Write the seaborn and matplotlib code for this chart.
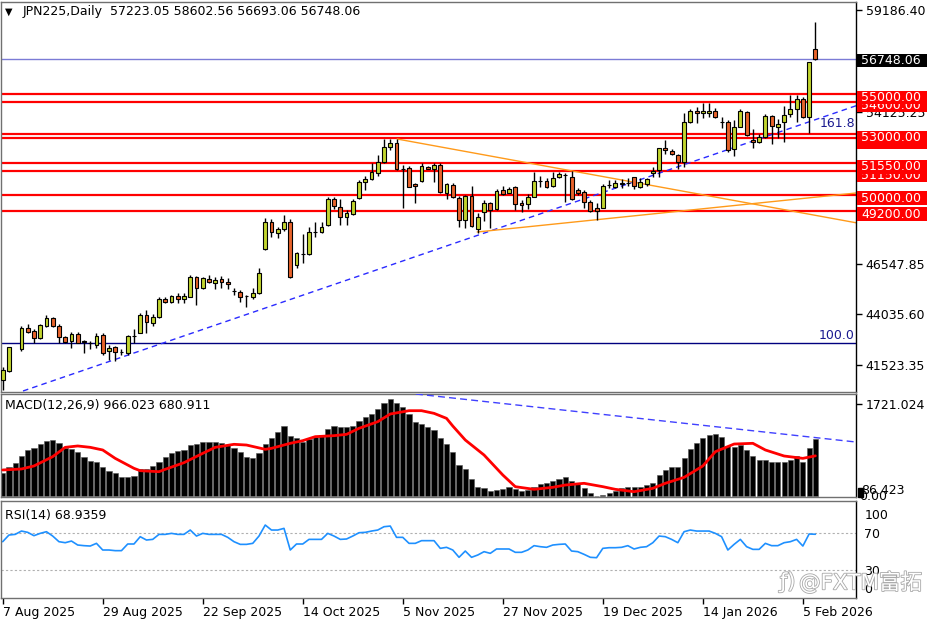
import numpy as np
import seaborn as sns
import matplotlib
matplotlib.use('Agg')
import matplotlib.pyplot as plt
import matplotlib.patheffects as pe
from matplotlib.patches import Rectangle

nan = np.nan

# daily OHLC (bar 0 = 7 Aug 2025)
opens = [40780, 41240, nan, 42300, 43350, 43220, 42850, 43460, 43850, 43460,
         42900, 42720, 43050, 42700, 42600, 42520, 43000, 42240, 42400, 42190,
         42100, 42970, 43130, 44010, 43630, 43900, 44790, 44670, 44960, 44790,
         44920, 45890, 45340, 45790, 45620, 45790, 45670, 45220, 45170, 44960,
         44920, 45120, 47280, 48650, 48110, 48270, 48650, 46500, 47040, 47030,
         48140, 48160, 48490, 49770, 49400, 48870, 49020, 49820, 50610, 50760,
         51060, 51640, 52380, 52580, 51260, 51310, 50530, 50690, 51360, 51260,
         51470, 50100, 50460, 49820, 48740, 49920, 48270, 49150, 49570, 49270,
         50230, 50100, 50360, 49570, 49530, 49900, 50680, 50680, 50430, 50860,
         50980, 50860, 50230, 50120, 49620, 49320, 49350, 50460, 50390, 50550,
         50590, 50860, 50360, 50510, 51060, 51230, 52300, 52170, 51970, 51640,
         53630, 54160, 54050, 54050, 54160, 53630, 53630, 52250, 53380, 54130,
         52720, 52640, 52880, 53910, 53350, 53600, 54000, 54240, 54740, 53850,
         57223.05]
highs = [41440, 42430, nan, 43460, 43560, 43300, 43560, 44010, 43930, 43560,
         42970, 43150, 43180, 42770, 42730, 43100, 43100, 42520, 42470, 42300,
         43020, 43300, 44100, 44260, 44060, 44890, 44920, 45010, 45090, 45120,
         46000, 45950, 45920, 46000, 45920, 45950, 45840, 45340, 45260, 45010,
         45340, 46330, 48820, 48770, 48400, 48990, 48770, 47160, 48040, 48370,
         48650, 48650, 49870, 49870, 49770, 49240, 49770, 50730, 50930, 51560,
         51970, 52750, 52750, 52750, 51470, 51420, 50590, 51560, 51420, 51590,
         51560, 50590, 50560, 49930, 49980, 50430, 49100, 49730, 49650, 50260,
         50430, 50360, 50430, 49730, 50030, 51140, 50930, 50810, 51140, 51140,
         51060, 51190, 50310, 50230, 49730, 49570, 50530, 50730, 50730, 50760,
         50810, 50890, 50810, 50840, 51390, 52330, 52720, 52270, 52020, 54050,
         54240, 54340, 54570, 54570, 54290, 53880, 53710, 53710, 54240, 54160,
         53250, 53020, 54000, 53960, 53750, 54410, 54960, 54960, 54840, 56610,
         58602.56]
lows = [40280, 41190, nan, 42240, 43100, 42630, 42800, 43430, 43400, 42630,
        42630, 42380, 42630, 42140, 42300, 42350, 42020, 41770, 41740, 42020,
        42020, 42630, 43100, 43100, 43460, 43860, 44620, 44620, 44620, 44620,
        44890, 44510, 45290, 45590, 45290, 45340, 45290, 45010, 44670, 44420,
        44790, 45060, 47250, 47910, 47830, 48210, 45840, 46330, 46580, 47000,
        47910, 48080, 48440, 49270, 48490, 48490, 48990, 49770, 50230, 50730,
        50930, 51560, 52220, 51230, 49320, 50360, 49570, 50640, 51260, 50640,
        50100, 49770, 49820, 48400, 48320, 48400, 48110, 48700, 48320, 49240,
        49980, 50070, 49240, 49150, 49270, 49870, 50390, 50310, 50360, 50810,
        49650, 49730, 49980, 49320, 49150, 48740, 49320, 50310, 50310, 50310,
        50430, 50260, 50310, 50430, 50860, 50890, 52020, 51970, 51260, 51390,
        53580, 53580, 53800, 53880, 53800, 53300, 52140, 51920, 53350, 52920,
        52300, 52550, 52800, 52520, 52800, 52630, 53850, 53630, 53800, 53050,
        56693.06]
closes = [41270, 42400, nan, 43350, 43180, 42850, 43510, 43850, 43460, 42900,
          42680, 43050, 42630, 42680, 42620, 42970, 42100, 42350, 42190, 42170,
          42970, 42980, 44010, 43650, 43900, 44790, 44670, 44960, 44790, 44960,
          45890, 45340, 45840, 45670, 45750, 45670, 45540, 45210, 44920, 44950,
          45120, 46120, 48650, 48140, 48270, 48620, 45890, 47080, 47050, 48140,
          48150, 48400, 49770, 49430, 48900, 49070, 49680, 50610, 50760, 51140,
          51610, 52350, 52580, 51260, 51280, 50390, 50430, 51410, 51290, 51460,
          50150, 50510, 49900, 48740, 49920, 48440, 48870, 49570, 49240, 50200,
          50030, 50290, 49530, 49500, 49900, 50680, 50690, 50390, 50810, 51010,
          50980, 49770, 50070, 49630, 49200, 49190, 50430, 50470, 50580, 50560,
          50600, 50430, 50640, 50780, 51190, 52300, 52220, 52020, 51640, 53630,
          54180, 54050, 54160, 54180, 53880, 53620, 52220, 53350, 54180, 52970,
          52600, 52880, 53910, 53410, 53510, 53960, 54240, 54760, 53850, 56610,
          56748.06]

macd_hist = [384, 486, 553, 683, 780, 808, 876, 938, 949, 904,
             808, 797, 741, 667, 599, 582, 497, 429, 384, 316,
             328, 339, 452, 463, 508, 582, 667, 735, 762, 780,
             865, 881, 910, 921, 921, 904, 865, 808, 741, 667,
             638, 723, 876, 989, 1090, 1187, 1017, 977, 921, 960,
             1005, 1034, 1130, 1187, 1175, 1175, 1192, 1271, 1333, 1390,
             1469, 1571, 1639, 1571, 1510, 1385, 1247, 1214, 1164, 1119,
             977, 881, 741, 526, 458, 283, 159, 130, 85, 101,
             118, 147, 113, 91, 101, 147, 204, 215, 260, 283,
             316, 260, 204, 141, 45, 5, 17, 45, 91, 141,
             147, 147, 159, 186, 226, 356, 440, 486, 486, 638,
             791, 892, 977, 1034, 1045, 995, 848, 825, 865, 780,
             678, 611, 611, 582, 582, 582, 611, 678, 582, 819,
             966.023]
sig_idx = [0, 3, 5, 8, 10, 12, 14, 16, 18, 21, 22, 25, 26, 29, 32, 34, 37, 39, 42, 43,
           46, 48, 50, 53, 55, 57, 60, 62, 65, 67, 69, 71, 72, 74, 77, 80, 82, 85, 88, 90,
           93, 96, 98, 101, 104, 106, 109, 112, 114, 117, 120, 122, 125, 128, 130]
sig_val = [441, 458, 509, 667, 825, 848, 825, 780, 638, 469, 429, 412, 452, 565, 723, 825, 876, 864, 791, 808,
           893, 938, 1006, 1023, 1045, 1147, 1260, 1390, 1446, 1446, 1401, 1316, 1186, 949, 695, 356, 158, 113, 147, 186,
           215, 158, 113, 73, 130, 215, 316, 509, 751, 881, 893, 780, 678, 638, 680.911]

rsi = [60.9, 68.1, 68.8, 72.4, 71.0, 67.4, 69.9, 71.7, 67.0, 60.9,
       59.8, 61.6, 57.3, 56.6, 56.2, 59.1, 51.9, 51.9, 51.2, 51.2,
       58.4, 58.4, 66.3, 62.7, 63.4, 68.8, 68.8, 69.9, 68.8, 68.8,
       73.5, 67.0, 69.9, 68.8, 68.8, 68.8, 65.6, 60.9, 58.0, 58.0,
       59.1, 67.0, 78.9, 73.5, 73.5, 75.3, 51.9, 58.4, 58.4, 63.4,
       63.4, 63.4, 69.9, 67.0, 63.4, 63.8, 67.0, 70.6, 71.0, 72.4,
       73.5, 77.1, 77.8, 65.6, 65.6, 59.1, 59.1, 62.0, 62.0, 62.0,
       53.7, 54.8, 51.9, 44.0, 50.8, 44.0, 46.5, 50.1, 48.3, 53.0,
       53.0, 53.0, 49.4, 49.4, 51.9, 56.6, 55.5, 54.8, 57.3, 58.0,
       58.4, 50.8, 50.1, 47.2, 44.0, 43.6, 53.7, 54.4, 54.4, 54.8,
       56.6, 53.0, 54.8, 55.5, 59.8, 67.0, 66.3, 63.4, 59.8, 71.7,
       73.5, 72.4, 72.4, 72.4, 69.9, 66.3, 51.9, 58.0, 63.4, 55.5,
       52.6, 52.6, 59.1, 56.6, 56.6, 59.8, 60.9, 63.4, 56.2, 69.2,
       68.9359]

date_pos = [0, 16, 32, 48, 64, 80, 96, 112, 128]
date_lbl = ['7 Aug 2025', '29 Aug 2025', '22 Sep 2025', '14 Oct 2025', '5 Nov 2025',
            '27 Nov 2025', '19 Dec 2025', '14 Jan 2026', '5 Feb 2026']

# horizontal levels drawn on the chart (hidden labels first, visible ones on top)
red_levels = [54600, 55000, 52800, 53000, 51150, 51550, 50000, 49200]
red_labels = ['54600.00', '55000.00', '52800.00', '53000.00', '51150.00', '51550.00', '50000.00', '49200.00']
price_ticks = [59186.40, 54125.25, 46547.85, 44035.60, 41523.35]
last_price = 56748.06
fib_100 = 42618

sns.set_style('white')
plt.rcParams['font.family'] = ['DejaVu Sans', 'Noto Sans CJK SC']

W, H = 936, 624
fig = plt.figure(figsize=(W / 100, H / 100), dpi=100)
fig.patch.set_facecolor('white')


def panel(x0, y0, x1, y1):
    return fig.add_axes([x0 / W, 1 - y1 / H, (x1 - x0) / W, (y1 - y0) / H])


ax = panel(1, 2, 856, 392)
axm = panel(1, 394, 856, 497)
axr = panel(1, 501, 856, 598)

for a in (ax, axm, axr):
    a.set_xlim(-0.27, 136.5)
    a.set_facecolor('white')
    for s in a.spines.values():
        s.set_color('#707070')
        s.set_linewidth(1)
    a.spines['right'].set_color('black')
    a.tick_params(axis='y', which='both', left=False, right=True, labelleft=False,
                  labelright=True, length=4, width=1, direction='out', pad=3,
                  labelsize=9, colors='black')
    a.tick_params(axis='x', bottom=False, labelbottom=False)

# ---- price panel
idx = np.arange(len(closes))
o = np.array(opens, float)
h = np.array(highs, float)
l = np.array(lows, float)
c = np.array(closes, float)
ok = ~np.isnan(o)
up = ok & (c >= o)
dn = ok & (c < o)

ax.set_ylim(40180, 59582)
for lvl in red_levels:
    ax.axhline(lvl, color='red', lw=1.6, zorder=1)
ax.axhline(last_price, color='#7b7bd6', lw=1, zorder=1)
ax.axhline(fib_100, color='#00007f', lw=1, zorder=1)
ax.plot([3.25, 136.5], [40230, 54420], color='#2a2aff', lw=1, ls=(0, (4, 3)), zorder=2)
ax.plot([63.1, 136.5], [52766, 48600], color='#ff9a1a', lw=1, zorder=2)
ax.plot([75.9, 136.5], [48140, 50080], color='#ff9a1a', lw=1, zorder=2)

ax.vlines(idx[ok], l[ok], h[ok], color='black', lw=1, zorder=3)
ax.bar(idx[up], (c - o)[up], bottom=o[up], width=0.62, color='#c2d52f',
       edgecolor='black', linewidth=0.8, zorder=4)
ax.bar(idx[dn], (o - c)[dn], bottom=c[dn], width=0.62, color='#e8632b',
       edgecolor='black', linewidth=0.8, zorder=4)

ax.set_yticks(price_ticks)
ax.set_yticklabels([f'{p:.2f}' for p in price_ticks])

ytr = ax.get_yaxis_transform()
ax.text(0.9988, 53513, '161.8', transform=ytr, ha='right', va='center', color='#1a1a90', fontsize=9)
ax.text(0.9988, 43015, '100.0', transform=ytr, ha='right', va='center', color='#1a1a90', fontsize=9)


def price_box(k, lvl, txt, fc, shift):
    yc = lvl - shift
    ax.add_patch(Rectangle((1.0015, yc - 340), 70 / 855, 680, transform=ytr, fc=fc,
                           ec='none', clip_on=False, zorder=5 + 2 * k))
    ax.text(1.0015 + 4 / 855, yc, txt, transform=ytr, color='white', fontsize=9,
            va='center', ha='left', zorder=6 + 2 * k, clip_on=False)


for k, (lvl, txt) in enumerate(zip(red_levels, red_labels)):
    price_box(k, lvl, txt, 'red', 175)
price_box(len(red_levels), last_price, f'{last_price:.2f}', 'black', 75)

# ---- MACD panel
axm.set_ylim(-17, 1729)
axm.bar(idx, macd_hist, width=0.82, color='black', edgecolor='#555555', linewidth=0.4, zorder=2)
sns.lineplot(x=sig_idx, y=sig_val, ax=axm, color='red', linewidth=2, zorder=3)
axm.plot([66.1, 136.5], [1729, 915], color='#4040ff', lw=1, ls=(0, (5, 3)), zorder=3)
axm.set_yticks([1559])
axm.set_yticklabels(['1721.024'])
axm.set_xlabel('')
axm.set_ylabel('')

# ---- RSI panel
axr.set_ylim(0, 104.9)
axr.axhline(70, color='#b0b0b0', lw=0.8, ls=(0, (2, 2)))
axr.axhline(30, color='#b0b0b0', lw=0.8, ls=(0, (2, 2)))
sns.lineplot(x=idx, y=rsi, ax=axr, color='#1e90ff', linewidth=1.2)
axr.set_yticks([90.8, 70, 30, 10.8])
axr.set_yticklabels(['100', '70', '30', '0'])
axr.tick_params(axis='y', length=0, pad=6)
axr.set_xticks(date_pos)
axr.set_xticklabels(date_lbl, ha='left')
axr.tick_params(axis='x', bottom=True, labelbottom=True, length=4, width=1,
                direction='out', pad=2, labelsize=9, colors='black')
axr.set_xlabel('')
axr.set_ylabel('')

# ---- captions
fig.text(5 / W, 1 - 12 / H, '▼', fontsize=7, va='center', color='black')
fig.text(23 / W, 1 - 12 / H, 'JPN225,Daily  57223.05 58602.56 56693.06 56748.06',
         fontsize=9, va='center', color='black')
fig.text(5 / W, 1 - 405 / H, 'MACD(12,26,9) 966.023 680.911', fontsize=9, va='center', color='black')
fig.text(5 / W, 1 - 515 / H, 'RSI(14) 68.9359', fontsize=9, va='center', color='black')

fig.add_artist(Rectangle((858 / W, 1 - 497 / H), 5 / W, 9 / H, transform=fig.transFigure,
                         color='black', zorder=5))
fig.text(861 / W, 1 - 491 / H, '86.423', fontsize=9, va='center', color='black', zorder=6)
fig.text(859 / W, 1 - 497 / H, '0.00', fontsize=9, va='center', color='black', zorder=6)

wm = [pe.withStroke(linewidth=1.2, foreground='#a8a8a8')]
fig.text(780 / W, 1 - 582 / H, 'ƒ)', fontsize=15, va='center', color='white', path_effects=wm)
fig.text(799 / W, 1 - 582 / H, '@FXTM富拓', fontsize=15.5, va='center', color='white',
         path_effects=wm, family=['DejaVu Sans', 'Noto Sans CJK SC'])

fig.savefig('out.png', dpi=100, facecolor='white')
